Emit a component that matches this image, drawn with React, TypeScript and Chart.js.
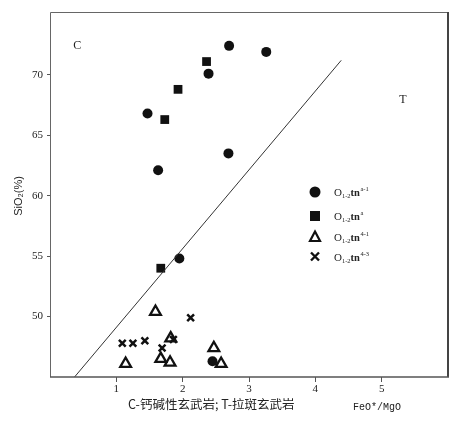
import React, { useEffect, useRef } from 'react';
import { Chart, registerables } from 'chart.js';
Chart.register(...registerables);

const circleX = [1.47, 2.70, 3.26, 2.39, 1.63, 2.69, 1.95, 2.45];
const circleY = [66.8, 72.4, 71.9, 70.1, 62.1, 63.5, 54.8, 46.3];
const squareX = [2.36, 1.93, 1.73, 1.67];
const squareY = [71.1, 68.8, 66.3, 54.0];
const triX = [1.59, 1.14, 1.67, 1.81, 1.82, 2.47, 2.58];
const triY = [50.4, 46.1, 46.5, 46.2, 48.2, 47.4, 46.1];
const crossX = [1.09, 1.25, 1.43, 1.69, 1.86, 2.12];
const crossY = [47.8, 47.8, 48.0, 47.4, 48.1, 49.9];
const lineX = [0.37, 4.39];
const lineY = [45, 71.2];
const xTicks = [1, 2, 3, 4, 5];
const yTicks = [50, 55, 60, 65, 70];
const legendSub = ['1-2', '1-2', '1-2', '1-2'];
const legendSup = ['a-1', 'a', '4-1', '4-3'];
const legendStyles = ['circle', 'rect', 'triangle', 'crossRot'];
const yTitle = 'SiO₂(%)';
const xTitle = 'FeO*/MgO';
const caption = 'C-钙碱性玄武岩; T-拉斑玄武岩';
const fieldLabels = ['C', 'T'];
const fieldX = [0.41, 5.32];
const fieldY = [72.4, 67.9];

const zip = (xs: number[], ys: number[]) => xs.map((x, i) => ({ x, y: ys[i] }));

const INK = '#111';

const overlay = {
  id: 'overlay',
  afterDraw(chart: any) {
    const { ctx, chartArea: a, scales } = chart;
    const xs = scales.x, ys = scales.y;
    ctx.save();
    // frame
    ctx.strokeStyle = '#666';
    ctx.lineWidth = 1;
    ctx.beginPath();
    ctx.moveTo(a.left + 0.5, a.bottom);
    ctx.lineTo(a.left + 0.5, a.top + 0.5);
    ctx.lineTo(a.right, a.top + 0.5);
    ctx.stroke();
    ctx.strokeStyle = '#444';
    ctx.lineWidth = 2;
    ctx.beginPath();
    ctx.moveTo(a.right, a.top);
    ctx.lineTo(a.right, a.bottom);
    ctx.stroke();
    ctx.strokeStyle = '#555';
    ctx.lineWidth = 1.5;
    ctx.beginPath();
    ctx.moveTo(a.left, a.bottom);
    ctx.lineTo(a.right + 1, a.bottom);
    ctx.stroke();

    // field labels
    ctx.fillStyle = '#222';
    ctx.font = '12px "Liberation Serif"';
    ctx.textAlign = 'center';
    ctx.textBaseline = 'middle';
    fieldLabels.forEach((t, i) => {
      ctx.fillText(t, xs.getPixelForValue(fieldX[i]), ys.getPixelForValue(fieldY[i]));
    });

    // y title
    ctx.save();
    ctx.translate(19, 196);
    ctx.rotate(-Math.PI / 2);
    ctx.font = '11px "Liberation Sans"';
    ctx.fillStyle = '#222';
    ctx.fillText(yTitle, 0, 0);
    ctx.restore();

    // caption and x title
    ctx.fillStyle = '#222';
    ctx.font = '12.5px "Noto Sans CJK SC"';
    ctx.textAlign = 'left';
    ctx.fillText(caption, 128, 404);
    ctx.font = '10px "Liberation Mono"';
    ctx.fillText(xTitle, 353, 407);

    // legend
    const lx = 315;
    const lys = [192, 216, 236.5, 256.5];
    legendStyles.forEach((s, i) => {
      const y = lys[i];
      ctx.fillStyle = INK;
      ctx.strokeStyle = INK;
      ctx.beginPath();
      if (s === 'circle') {
        ctx.arc(lx, y, 5.5, 0, Math.PI * 2);
        ctx.fill();
      } else if (s === 'rect') {
        ctx.fillRect(lx - 5, y - 5, 10, 10);
      } else if (s === 'triangle') {
        ctx.lineWidth = 2.2;
        ctx.moveTo(lx, y - 5);
        ctx.lineTo(lx + 5, y + 4.5);
        ctx.lineTo(lx - 5, y + 4.5);
        ctx.closePath();
        ctx.stroke();
      } else {
        ctx.lineWidth = 2.4;
        ctx.moveTo(lx - 4, y - 4);
        ctx.lineTo(lx + 4, y + 4);
        ctx.moveTo(lx + 4, y - 4);
        ctx.lineTo(lx - 4, y + 4);
        ctx.stroke();
      }
      let tx = 334;
      ctx.fillStyle = '#222';
      ctx.textAlign = 'left';
      ctx.textBaseline = 'alphabetic';
      ctx.font = '11px "Liberation Serif"';
      ctx.fillText('O', tx, y + 4);
      tx += ctx.measureText('O').width;
      ctx.font = '6.5px "Liberation Serif"';
      ctx.fillText(legendSub[i], tx, y + 6);
      tx += ctx.measureText(legendSub[i]).width;
      ctx.font = 'bold 10.5px "Liberation Serif"';
      ctx.fillText('tn', tx, y + 4);
      tx += ctx.measureText('tn').width;
      ctx.font = '6.5px "Liberation Serif"';
      ctx.fillText(legendSup[i], tx + 0.5, y - 1);
    });
    ctx.restore();
  },
};

export default function App() {
  const ref = useRef<HTMLCanvasElement>(null);
  useEffect(() => {
    const chart = new Chart(ref.current as HTMLCanvasElement, {
      type: 'scatter',
      data: {
        datasets: [
          {
            data: zip(lineX, lineY) as any,
            showLine: true,
            borderColor: '#333',
            borderWidth: 1,
            pointRadius: 0,
          },
          {
            data: zip(circleX, circleY) as any,
            pointStyle: 'circle',
            pointRadius: 5,
            backgroundColor: INK,
            borderColor: INK,
            borderWidth: 0,
          },
          {
            data: zip(squareX, squareY) as any,
            pointStyle: 'rect',
            pointRadius: 6.2,
            backgroundColor: INK,
            borderColor: INK,
            borderWidth: 0,
          },
          {
            data: zip(triX, triY) as any,
            pointStyle: 'triangle',
            pointRadius: 6.2,
            backgroundColor: 'rgba(255,255,255,0)',
            borderColor: INK,
            borderWidth: 2.3,
          },
          {
            data: zip(crossX, crossY) as any,
            pointStyle: 'crossRot',
            pointRadius: 4.8,
            borderColor: INK,
            borderWidth: 2.5,
          },
        ],
      },
      options: {
        responsive: false,
        maintainAspectRatio: false,
        animation: false,
        layout: { padding: { top: 12, right: 19, left: 0, bottom: 0 } },
        plugins: { legend: { display: false }, tooltip: { enabled: false } },
        scales: {
          x: {
            type: 'linear',
            min: 0,
            max: 6,
            afterFit: (s: any) => { s.height = 46; },
            afterBuildTicks: (s: any) => { s.ticks = xTicks.map((v) => ({ value: v })); },
            grid: { drawOnChartArea: false, drawTicks: true, tickLength: 5, color: '#555' },
            border: { display: false },
            ticks: { color: '#222', padding: 1, font: { family: 'Liberation Serif', size: 11 } },
          },
          y: {
            type: 'linear',
            min: 45,
            max: 75.2,
            afterFit: (s: any) => { s.width = 50; },
            afterBuildTicks: (s: any) => { s.ticks = yTicks.map((v) => ({ value: v })); },
            grid: { drawOnChartArea: false, drawTicks: true, tickLength: 3, color: '#555' },
            border: { display: false },
            ticks: { color: '#222', padding: 4, font: { family: 'Liberation Serif', size: 11 } },
          },
        },
      },
      plugins: [overlay],
    } as any);
    return () => chart.destroy();
  }, []);
  return (
    <div style={{ position: 'fixed', left: 0, top: 0, width: 467, height: 423, background: '#fff' }}>
      <canvas ref={ref} width={467} height={423} style={{ width: 467, height: 423 }} />
    </div>
  );
}
